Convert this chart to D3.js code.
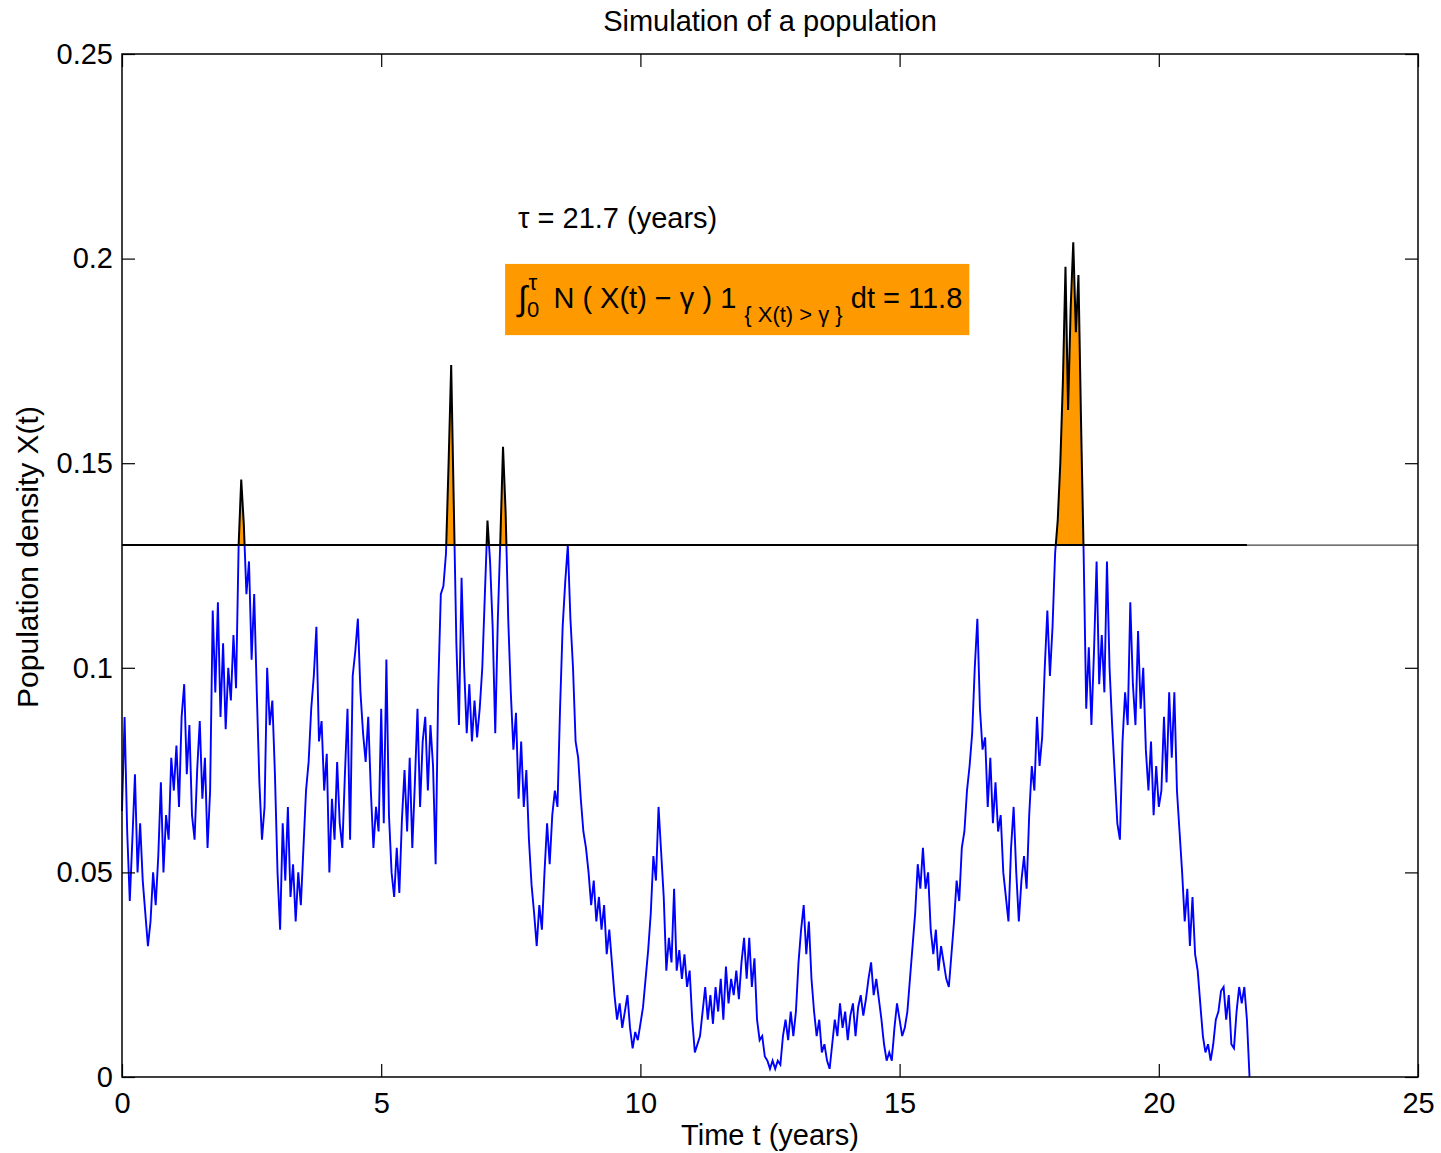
<!DOCTYPE html>
<html>
<head>
<meta charset="utf-8">
<script src="https://cdn.jsdelivr.net/npm/d3@7"></script>
<style>
  html, body { margin: 0; background: #fff; }
  #chart { width: 1441px; height: 1153px; }
</style>
</head>
<body>
<div id="chart"></div>
<script>
// sampled path of the simulated population, one value every timeStep years
const timeStep = 0.05;
const density = [
  0.065, 0.088, 0.06, 0.043, 0.058, 0.074, 0.05, 0.062, 0.048, 0.04,
  0.032, 0.038, 0.05, 0.042, 0.054, 0.072, 0.05, 0.064, 0.058, 0.078,
  0.07, 0.081, 0.066, 0.088, 0.096, 0.074, 0.086, 0.064, 0.058, 0.075,
  0.087, 0.068, 0.078, 0.056, 0.07, 0.114, 0.094, 0.116, 0.088, 0.106,
  0.085, 0.1, 0.092, 0.108, 0.095, 0.13, 0.146, 0.135, 0.118, 0.126,
  0.102, 0.118, 0.094, 0.072, 0.058, 0.066, 0.1, 0.086, 0.092, 0.074,
  0.05, 0.036, 0.062, 0.048, 0.066, 0.044, 0.052, 0.038, 0.05, 0.042,
  0.056, 0.07, 0.077, 0.09, 0.098, 0.11, 0.082, 0.087, 0.07, 0.079,
  0.05, 0.068, 0.058, 0.077, 0.062, 0.056, 0.074, 0.09, 0.058, 0.098,
  0.104, 0.112, 0.094, 0.084, 0.077, 0.088, 0.07, 0.056, 0.066, 0.06,
  0.09, 0.062, 0.102, 0.064, 0.05, 0.044, 0.056, 0.045, 0.063, 0.075,
  0.06, 0.078, 0.056, 0.072, 0.09, 0.066, 0.082, 0.088, 0.07, 0.086,
  0.076, 0.052, 0.095, 0.118, 0.12, 0.128, 0.15, 0.174, 0.14, 0.106,
  0.086, 0.122, 0.1, 0.084, 0.096, 0.082, 0.092, 0.083, 0.09, 0.1,
  0.118, 0.136, 0.126, 0.11, 0.084, 0.112, 0.132, 0.154, 0.138, 0.112,
  0.094, 0.08, 0.089, 0.068, 0.082, 0.066, 0.075, 0.058, 0.047, 0.04,
  0.032, 0.042, 0.036, 0.05, 0.062, 0.052, 0.064, 0.07, 0.066, 0.09,
  0.11, 0.121, 0.13, 0.112, 0.1, 0.082, 0.078, 0.068, 0.06, 0.056,
  0.05, 0.042, 0.048, 0.038, 0.044, 0.036, 0.042, 0.03, 0.036, 0.028,
  0.02, 0.014, 0.018, 0.012, 0.016, 0.02, 0.012, 0.007, 0.011, 0.009,
  0.013, 0.017, 0.024, 0.031, 0.04, 0.054, 0.048, 0.066, 0.055, 0.044,
  0.026, 0.034, 0.028, 0.046, 0.026, 0.031, 0.024, 0.03, 0.022, 0.026,
  0.014, 0.006, 0.008, 0.01, 0.016, 0.022, 0.014, 0.02, 0.013, 0.022,
  0.016, 0.024, 0.014, 0.027, 0.018, 0.024, 0.02, 0.026, 0.019, 0.028,
  0.034, 0.024, 0.034, 0.022, 0.029, 0.014, 0.009, 0.01, 0.005, 0.004,
  0.002, 0.004, 0.002, 0.004, 0.003, 0.01, 0.014, 0.009, 0.016, 0.01,
  0.016, 0.028, 0.036, 0.042, 0.03, 0.038, 0.024, 0.016, 0.01, 0.014,
  0.006, 0.008, 0.004, 0.002, 0.008, 0.014, 0.01, 0.018, 0.012, 0.016,
  0.009, 0.015, 0.018, 0.01, 0.017, 0.02, 0.015, 0.019, 0.024, 0.028,
  0.02, 0.024, 0.019, 0.014, 0.008, 0.004, 0.006, 0.004, 0.012, 0.018,
  0.014, 0.01, 0.012, 0.016, 0.024, 0.032, 0.04, 0.052, 0.046, 0.056,
  0.046, 0.05, 0.036, 0.03, 0.036, 0.026, 0.032, 0.028, 0.024, 0.022,
  0.03, 0.038, 0.048, 0.043, 0.056, 0.06, 0.07, 0.076, 0.084, 0.1,
  0.112, 0.09, 0.08, 0.083, 0.066, 0.078, 0.062, 0.072, 0.06, 0.064,
  0.05, 0.044, 0.038, 0.056, 0.066, 0.05, 0.038, 0.048, 0.054, 0.046,
  0.064, 0.076, 0.07, 0.088, 0.076, 0.083, 0.1, 0.114, 0.098, 0.11,
  0.128, 0.136, 0.15, 0.17, 0.198, 0.163, 0.188, 0.204, 0.182, 0.196,
  0.16, 0.128, 0.09, 0.105, 0.086, 0.104, 0.126, 0.096, 0.108, 0.094,
  0.126, 0.1, 0.086, 0.074, 0.062, 0.058, 0.082, 0.094, 0.086, 0.116,
  0.096, 0.086, 0.109, 0.09, 0.1, 0.08, 0.07, 0.082, 0.064, 0.076,
  0.066, 0.07, 0.088, 0.072, 0.094, 0.078, 0.094, 0.07, 0.06, 0.05,
  0.038, 0.046, 0.032, 0.044, 0.03, 0.026, 0.018, 0.01, 0.006, 0.008,
  0.004, 0.008, 0.014, 0.016, 0.021, 0.022, 0.014, 0.02, 0.008, 0.007,
  0.016, 0.022, 0.018, 0.022, 0.014, 0
];
const gamma = 0.13;
const tau = 21.7;
const integralValue = 11.8;

const xDomain = [0, 25];
const yDomain = [0, 0.25];
const xTicks = [0, 5, 10, 15, 20, 25];
const yTicks = [0, 0.05, 0.1, 0.15, 0.2, 0.25];
const yTickLabels = ['0', '0.05', '0.1', '0.15', '0.2', '0.25'];

const titleText = 'Simulation of a population';
const xLabelText = 'Time t (years)';
const yLabelText = 'Population density X(t)';

class PopulationChart {
  constructor(props) {
    const defaultProps = {
      containerDivId: 'chart',
      width: 1441,
      height: 1153,
      margin: { top: 54, right: 23, bottom: 76, left: 122 },
      font: "'Liberation Sans', Arial, Helvetica, sans-serif",
      fontSize: 29,
      lineColor: '#0000ff',
      fillColor: '#ff9900',
    };
    this.props = Object.assign({}, defaultProps, props);
  }

  renderAxes() {
    const { fontSize, font } = this.props;
    const { g, x, y, innerW, innerH } = this;

    const tidy = (sel) => {
      sel.select('.domain').remove();
      sel.attr('font-size', fontSize).attr('font-family', font);
      sel.selectAll('line').attr('stroke', '#000').attr('stroke-width', 1.2);
      sel.selectAll('text').attr('fill', '#000');
    };

    g.append('g')
      .attr('transform', `translate(0,${innerH})`)
      .call(d3.axisBottom(x).tickValues(xTicks).tickSize(-13).tickPadding(15).tickFormat(d3.format('d')))
      .call(tidy);

    g.append('g')
      .call(d3.axisTop(x).tickValues(xTicks).tickSize(-13).tickFormat(''))
      .call(tidy);

    g.append('g')
      .call(d3.axisLeft(y).tickValues(yTicks).tickSize(-13).tickPadding(9)
        .tickFormat((d, i) => yTickLabels[i]))
      .call(tidy);

    g.append('g')
      .attr('transform', `translate(${innerW},0)`)
      .call(d3.axisRight(y).tickValues(yTicks).tickSize(-13).tickFormat(''))
      .call(tidy);

    g.append('rect')
      .attr('width', innerW)
      .attr('height', innerH)
      .attr('fill', 'none')
      .attr('stroke', '#000')
      .attr('stroke-width', 1.5);
  }

  renderSeries() {
    const { lineColor, fillColor } = this.props;
    const { g, x, y, innerW, innerH } = this;
    const t = (i) => i * timeStep;

    const defs = this.svg.append('defs');
    defs.append('clipPath').attr('id', 'above')
      .append('rect').attr('x', -5).attr('y', -5)
      .attr('width', innerW + 10).attr('height', y(gamma) + 5);
    defs.append('clipPath').attr('id', 'below')
      .append('rect').attr('x', -5).attr('y', y(gamma))
      .attr('width', innerW + 10).attr('height', innerH - y(gamma) + 5);

    const line = d3.line().x((d, i) => x(t(i))).y((d) => y(d));
    const area = d3.area().x((d, i) => x(t(i))).y0(y(gamma)).y1((d) => y(d));

    g.append('path')
      .datum(density)
      .attr('clip-path', 'url(#below)')
      .attr('d', line)
      .attr('fill', 'none')
      .attr('stroke', lineColor)
      .attr('stroke-width', 1.9);

    g.append('path')
      .datum(density)
      .attr('clip-path', 'url(#above)')
      .attr('d', area)
      .attr('fill', fillColor);

    g.append('path')
      .datum(density)
      .attr('clip-path', 'url(#above)')
      .attr('d', line)
      .attr('fill', 'none')
      .attr('stroke', '#000')
      .attr('stroke-width', 2);

    // threshold gamma: light across the whole axis, strong up to tau
    g.append('line')
      .attr('x1', x(xDomain[0])).attr('x2', x(xDomain[1]))
      .attr('y1', y(gamma)).attr('y2', y(gamma))
      .attr('stroke', '#444').attr('stroke-width', 1.2);
    g.append('line')
      .attr('x1', x(0)).attr('x2', x(tau))
      .attr('y1', y(gamma)).attr('y2', y(gamma))
      .attr('stroke', '#000').attr('stroke-width', 2);
  }

  renderLabels() {
    const { fontSize, font, margin, fillColor } = this.props;
    const { svg, g, x, y, innerW } = this;

    svg.append('text')
      .attr('x', margin.left + innerW / 2).attr('y', 31)
      .attr('text-anchor', 'middle')
      .attr('font-family', font).attr('font-size', fontSize)
      .text(titleText);

    svg.append('text')
      .attr('x', margin.left + innerW / 2).attr('y', 1145)
      .attr('text-anchor', 'middle')
      .attr('font-family', font).attr('font-size', fontSize)
      .text(xLabelText);

    svg.append('text')
      .attr('transform', 'translate(38,557) rotate(-90)')
      .attr('text-anchor', 'middle')
      .attr('font-family', font).attr('font-size', 30)
      .text(yLabelText);

    g.append('text')
      .attr('x', x(7.64)).attr('y', y(0.2075))
      .attr('font-family', font).attr('font-size', fontSize)
      .text(`\u03c4 = ${tau} (years)`);

    const box = g.append('rect').attr('fill', fillColor);
    const formula = g.append('text')
      .attr('x', x(7.64)).attr('y', y(0.188))
      .attr('font-family', font).attr('font-size', fontSize)
      .attr('fill', '#000');
    formula.append('tspan').attr('font-size', 34).attr('dy', 2).text('\u222b');
    formula.append('tspan').attr('font-size', 22).attr('dx', 1).attr('dy', -20).text('\u03c4');
    formula.append('tspan').attr('font-size', 22).attr('dx', -10).attr('dy', 27).text('0');
    formula.append('tspan').attr('dx', 6).attr('dy', -9).text(' N ( X(t) \u2212 \u03b3 ) 1');
    formula.append('tspan').attr('font-size', 22).attr('dx', 8).attr('dy', 14).text('{ X(t) > \u03b3 }');
    formula.append('tspan').attr('dy', -14).text(` dt = ${integralValue}`);

    const bb = formula.node().getBBox();
    const left = x(7.39);
    box.attr('x', left).attr('y', y(0.1987))
      .attr('width', bb.x + bb.width + 7 - left).attr('height', y(0.1813) - y(0.1987));
  }

  render() {
    const { containerDivId, width, height, margin } = this.props;
    this.innerW = width - margin.left - margin.right;
    this.innerH = height - margin.top - margin.bottom;

    this.x = d3.scaleLinear().domain(xDomain).range([0, this.innerW]);
    this.y = d3.scaleLinear().domain(yDomain).range([this.innerH, 0]);

    this.svg = d3.select(`#${containerDivId}`)
      .append('svg')
      .attr('width', width)
      .attr('height', height)
      .attr('viewBox', `0 0 ${width} ${height}`);
    this.svg.append('rect').attr('width', width).attr('height', height).attr('fill', '#fff');

    this.g = this.svg.append('g').attr('transform', `translate(${margin.left},${margin.top})`);

    this.renderSeries();
    this.renderAxes();
    this.renderLabels();
  }
}

new PopulationChart().render();
</script>
</body>
</html>
